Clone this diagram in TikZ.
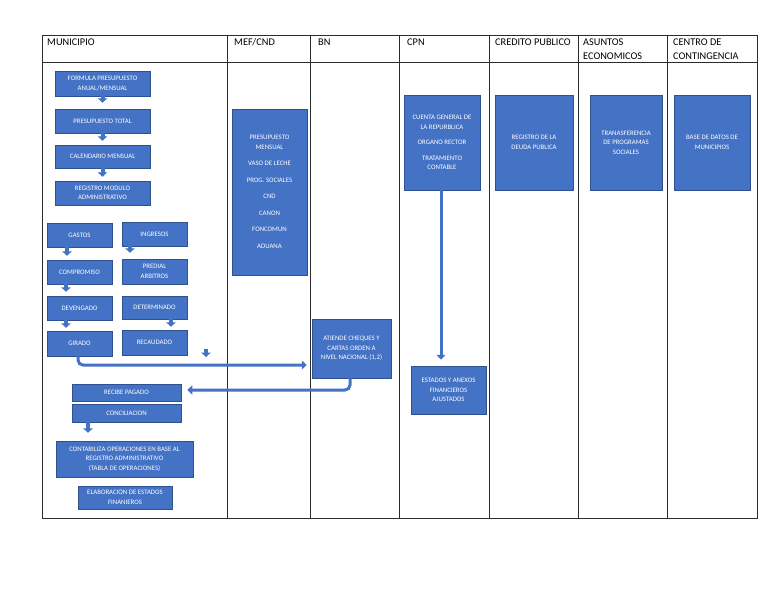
\documentclass[tikz,border=0pt]{standalone}
\usepackage{fontspec}
\setmainfont{Carlito}
\usetikzlibrary{arrows.meta,calc}
\definecolor{boxc}{HTML}{4472C4}
\definecolor{boxd}{HTML}{2F528F}
\definecolor{rulec}{HTML}{2B2B2B}
\tikzset{
  tab/.style={rulec,line width=0.9pt},
  hd/.style={anchor=north west,inner sep=0pt,align=left,font=\fontsize{10.3}{14}\selectfont},
  box/.style={draw=boxd,line width=0.5pt,fill=boxc,text=white,align=center,inner sep=1pt,font=\fontsize{6.8}{9.5}\selectfont},
  blk/.style={-{Triangle[width=9.5pt,length=4.5pt]},boxc,line width=4pt},
  lnk/.style={-{Triangle[width=9pt,length=5pt]},boxc,line width=3pt,rounded corners=5pt}
}
\begin{document}
\begin{tikzpicture}[x=1pt,y=-1pt]
\fill[white] (0,0) rectangle (768,594);
\useasboundingbox (0,0) rectangle (768,594);
% table
\draw[tab] (42,35) rectangle (757,518);
\draw[tab] (42,62) -- (757,62);
\foreach \x in {227,310,399,489,578,667} \draw[tab] (\x,35) -- (\x,518);
\node[hd] (hmun) at (47,38.5) {MUNICIPIO};
\node[hd] (hmef) at (234,38.5) {MEF/CND};
\node[hd] (hbn) at (318,38.5) {BN};
\node[hd] (hcpn) at (407,38.5) {CPN};
\node[hd] (hcre) at (495,38.5) {CREDITO PUBLICO};
\node[hd] (hasu) at (583,38.5) {ASUNTOS\\ECONOMICOS};
\node[hd] (hcen) at (673,38.5) {CENTRO DE\\CONTINGENCIA};
% municipio
\node[box,minimum width=95pt,minimum height=25pt] (form) at (102.5,83.5) {FORMULA PRESUPUESTO\\ANUAL/MENSUAL};
\node[box,minimum width=95pt,minimum height=24pt] (ptot) at (102.5,121) {PRESUPUESTO TOTAL};
\node[box,minimum width=95pt,minimum height=23pt] (cal) at (102.5,156.5) {CALENDARIO MENSUAL};
\node[box,minimum width=95pt,minimum height=24pt] (reg) at (102.5,193) {REGISTRO MODULO\\ADMINISTRATIVO};
\node[box,minimum width=65pt,minimum height=24pt] (gas) at (79.5,235) {GASTOS};
\node[box,minimum width=65pt,minimum height=24pt] (ing) at (154.5,234) {INGRESOS};
\node[box,minimum width=65pt,minimum height=24pt] (com) at (79.5,272) {COMPROMISO};
\node[box,minimum width=65pt,minimum height=25pt] (pred) at (154.5,271.5) {PREDIAL\\ARBITROS};
\node[box,minimum width=65pt,minimum height=24pt] (dev) at (79.5,308) {DEVENGADO};
\node[box,minimum width=65pt,minimum height=23pt] (det) at (154.5,307.5) {DETERMINADO};
\node[box,minimum width=65pt,minimum height=25pt] (gir) at (79.5,343.5) {GIRADO};
\node[box,minimum width=65pt,minimum height=25pt] (rec) at (154.5,342.5) {RECAUDADO};
\node[box,minimum width=109pt,minimum height=17pt] (rpag) at (126.5,392.5) {RECIBE PAGADO};
\node[box,minimum width=109pt,minimum height=18pt] (conc) at (126.5,413) {CONCILIACION};
\node[box,minimum width=137pt,minimum height=36pt] (cont) at (124.5,459) {CONTABILIZA OPERACIONES EN BASE AL\\REGISTRO ADMINISTRATIVO\\(TABLA DE OPERACIONES)};
\node[box,minimum width=94pt,minimum height=23pt] (elab) at (125,497.5) {ELABORACION DE ESTADOS\\FINANIEROS};
% other columns
\node[box,minimum width=75pt,minimum height=166pt] (mef) at (269.5,192) {PRESUPUESTO\\MENSUAL\\[7pt]VASO DE LECHE\\[7pt]PROG. SOCIALES\\[7pt]CND\\[7pt]CANON\\[7pt]FONCOMUN\\[7pt]ADUANA};
\node[box,minimum width=79pt,minimum height=59pt] (bn) at (351.5,348.5) {ATIENDE CHEQUES Y\\CARTAS ORDEN A\\NIVEL NACIONAL (1,2)};
\node[box,minimum width=76pt,minimum height=95pt] (cpn) at (442,142.5) {CUENTA GENERAL DE\\LA REPURBLICA\\[6pt]ORGANO RECTOR\\[6pt]TRATAMIENTO\\CONTABLE};
\node[box,minimum width=75pt,minimum height=48pt] (est) at (448.5,390) {ESTADOS Y ANEXOS\\FINANCIEROS\\AJUSTADOS};
\node[box,minimum width=78pt,minimum height=95pt] (deu) at (534,142.5) {REGISTRO DE LA\\DEUDA PUBLICA};
\node[box,minimum width=72pt,minimum height=95pt] (tra) at (626,142.5) {TRANASFERENCIA\\DE PROGRAMAS\\SOCIALES};
\node[box,minimum width=76pt,minimum height=95pt] (bas) at (712,142.5) {BASE DE DATOS DE\\MUNICIPIOS};
% small arrows
\draw[blk,shorten >=6pt] (form) -- (ptot);
\draw[blk,shorten >=4pt] (ptot) -- (cal);
\draw[blk,shorten >=4pt] (cal) -- (reg);
\draw[blk,shorten >=4pt] ([xshift=-12.5]gas.south) -- ([xshift=-12.5]com.north);
\draw[blk,shorten >=6pt] ([xshift=-24.5]ing.south) -- ([xshift=-24.5]pred.north);
\draw[blk,shorten >=4pt] ([xshift=-13.5]com.south) -- ([xshift=-13.5]dev.north);
\draw[blk,shorten >=3pt] ([xshift=-13.5]dev.south) -- ([xshift=-13.5]gir.north);
\draw[blk,shorten >=3pt] ([xshift=16.5]det.south) -- ([xshift=16.5]rec.north);
\draw[blk,shorten >=8pt] ([xshift=-38.5]conc.south) -- ([xshift=-38.5]conc.south |- cont.north);
\coordinate (loose) at (206,349);
\draw[blk] (loose) -- ++(0,8);
% long connectors
\draw[lnk] ([xshift=-1.5]gir.south) |- ([xshift=-5pt,yshift=-16.5pt]bn.west);
\draw[lnk] ([xshift=-1.5]bn.south) |- ([xshift=6pt,yshift=2.5pt]rpag.east);
\draw[lnk,shorten >=6pt] ([xshift=-1]cpn.south) -- ([xshift=-1]cpn.south |- est.north);
\end{tikzpicture}
\end{document}
